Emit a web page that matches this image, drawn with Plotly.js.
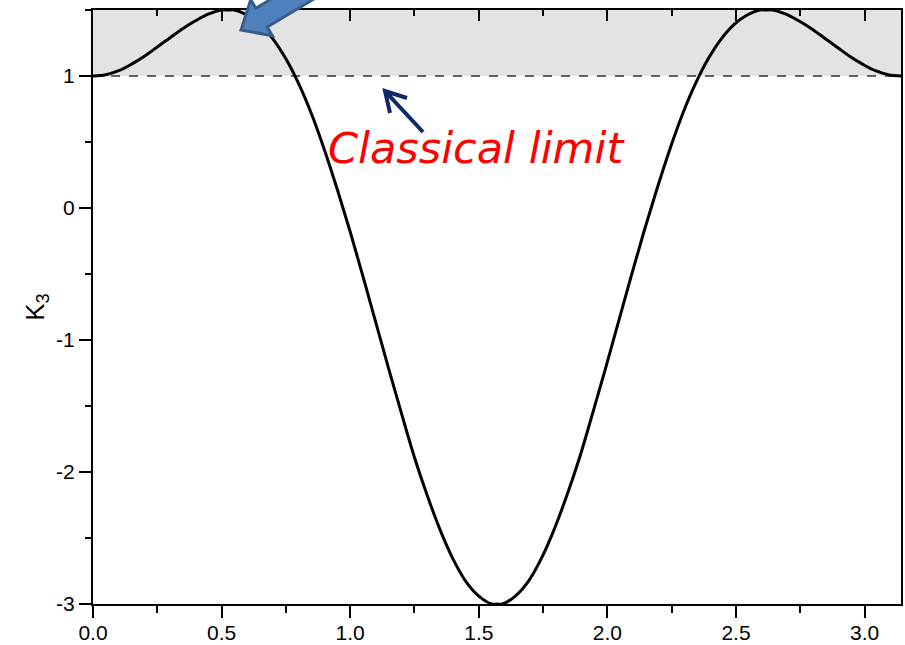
<!DOCTYPE html>
<html>
<head>
<meta charset="utf-8">
<script src="https://cdn.plot.ly/plotly-3.0.1.min.js"></script>
<style>
  html, body { margin: 0; padding: 0; background: #fff; }
  #graph { width: 905px; height: 645px; }
</style>
</head>
<body>
<div id="graph"></div>
<script>
// Data
const theta = [0.0, 0.05, 0.1, 0.15, 0.2, 0.25, 0.3, 0.35, 0.4, 0.45, 0.5, 0.524, 0.55, 0.6, 0.65, 0.7, 0.75,
               0.8, 0.85, 0.9, 0.95, 1.0, 1.05, 1.1, 1.15, 1.2, 1.25, 1.3, 1.35, 1.4, 1.45, 1.5, 1.55, 1.571,
               1.592, 1.642, 1.692, 1.742, 1.792, 1.842, 1.892, 1.942, 1.992, 2.042, 2.092, 2.142, 2.192, 2.242,
               2.292, 2.342, 2.392, 2.442, 2.492, 2.542, 2.592, 2.618, 2.642, 2.692, 2.742, 2.792, 2.842, 2.892,
               2.942, 2.992, 3.042, 3.092, 3.1416];
const k3 = [1.00, 1.01, 1.04, 1.09, 1.15, 1.22, 1.29, 1.36, 1.42, 1.47, 1.50, 1.50, 1.50, 1.46, 1.39, 1.28, 1.13,
            0.94, 0.71, 0.44, 0.14, -0.18, -0.52, -0.87, -1.22, -1.56, -1.89, -2.18, -2.44, -2.66, -2.83, -2.94, -3.00, -3.00,
            -3.00, -2.94, -2.83, -2.66, -2.44, -2.18, -1.89, -1.56, -1.22, -0.87, -0.52, -0.18, 0.14, 0.44,
            0.71, 0.94, 1.13, 1.28, 1.39, 1.46, 1.50, 1.50, 1.50, 1.47, 1.42, 1.36, 1.29, 1.22,
            1.15, 1.09, 1.04, 1.01, 1.00];
const classicalLimit = 1;
const yMax = 1.5;
const xTickVals = [0, 0.5, 1.0, 1.5, 2.0, 2.5, 3.0];
const xTickText = ['0.0', '0.5', '1.0', '1.5', '2.0', '2.5', '3.0'];
const yTickVals = [-3, -2, -1, 0, 1];
const yTickText = ['-3', '-2', '-1', '0', '1'];

// plot area in page pixels, used to place the drawn arrows
const L = 93, T = 10, W = 808, H = 594;
function paper(px, py) {
    return [(px - L) / W, (T + H - py) / H];
}
function pathFrom(points, close) {
    let d = points.map((p, i) => {
        const q = paper(p[0], p[1]);
        return (i === 0 ? 'M ' : 'L ') + q[0].toFixed(4) + ',' + q[1].toFixed(4);
    }).join(' ');
    return close ? d + ' Z' : d;
}

// big blue block arrow coming from above
function blockArrow(tip, angleDeg, headLen, headHalf, shaftHalf, shaftLen) {
    const a = angleDeg * Math.PI / 180;
    const u = [Math.cos(a), -Math.sin(a)];
    const n = [Math.sin(a), Math.cos(a)];
    const at = (c, s, t) => [c[0] + s * u[0] + t * n[0], c[1] + s * u[1] + t * n[1]];
    return pathFrom([
        tip,
        at(tip, headLen, headHalf),
        at(tip, headLen, shaftHalf),
        at(tip, shaftLen, shaftHalf),
        at(tip, shaftLen, -shaftHalf),
        at(tip, headLen, -shaftHalf),
        at(tip, headLen, -headHalf)
    ], true);
}

const curve = {
    x: theta,
    y: k3,
    mode: 'lines',
    type: 'scatter',
    line: { color: '#000', width: 3, shape: 'spline', smoothing: 1 },
    hoverinfo: 'skip',
    showlegend: false
};
const topAxisTrace = {
    x: theta,
    y: k3,
    xaxis: 'x2',
    mode: 'lines',
    type: 'scatter',
    line: { color: 'rgba(0,0,0,0)', width: 0 },
    hoverinfo: 'skip',
    showlegend: false
};

const axisFont = { family: 'Liberation Sans, Arial, sans-serif', size: 21, color: '#000' };

const layout = {
    width: 905,
    height: 645,
    margin: { l: L, r: 905 - L - W, t: T, b: 645 - T - H },
    paper_bgcolor: '#fff',
    plot_bgcolor: 'rgba(0,0,0,0)',
    showlegend: false,
    xaxis: {
        range: [0, Math.PI],
        tickvals: xTickVals,
        ticktext: xTickText,
        ticks: 'outside',
        ticklen: 12,
        tickwidth: 2,
        tickcolor: '#000',
        ticklabelstandoff: -3,
        minor: { dtick: 0.25, ticklen: 7, tickwidth: 2, tickcolor: '#000', ticks: 'outside' },
        showline: true,
        linecolor: '#000',
        linewidth: 2,
        showgrid: false,
        zeroline: false,
        tickfont: axisFont,
        fixedrange: true
    },
    xaxis2: {
        overlaying: 'x',
        matches: 'x',
        side: 'top',
        anchor: 'y',
        range: [0, Math.PI],
        tickvals: xTickVals,
        ticks: 'inside',
        ticklen: 11,
        tickwidth: 2,
        tickcolor: '#000',
        minor: { dtick: 0.25, ticklen: 6, tickwidth: 2, tickcolor: '#000', ticks: 'inside' },
        showticklabels: false,
        showline: true,
        linecolor: '#000',
        linewidth: 2,
        showgrid: false,
        zeroline: false
    },
    yaxis: {
        range: [-3, yMax],
        tickvals: yTickVals,
        ticktext: yTickText,
        ticks: 'outside',
        ticklen: 12,
        tickwidth: 2,
        tickcolor: '#000',
        minor: { dtick: 0.5, ticklen: 6, tickwidth: 2, tickcolor: '#000', ticks: 'outside' },
        showline: true,
        mirror: true,
        linecolor: '#000',
        linewidth: 2,
        showgrid: false,
        zeroline: false,
        tickfont: axisFont,
        title: { text: 'K<sub>3</sub>', font: { family: 'Liberation Sans, Arial, sans-serif', size: 26, color: '#000' }, standoff: 4 },
        fixedrange: true
    },
    shapes: [
        // region above the classical limit
        { type: 'rect', xref: 'x', yref: 'y', x0: 0, x1: Math.PI, y0: classicalLimit, y1: yMax,
          fillcolor: '#e3e3e3', line: { width: 0 }, layer: 'below' },
        { type: 'line', xref: 'x', yref: 'y', x0: 0, x1: Math.PI, y0: classicalLimit, y1: classicalLimit,
          line: { color: '#333', width: 1.5, dash: 'dash' }, layer: 'below' },
        // big blue arrow
        { type: 'path', xref: 'paper', yref: 'paper', layer: 'above',
          path: blockArrow([241, 30], 31, 24, 21, 11, 170),
          fillcolor: '#4f81bd', line: { color: '#385d8a', width: 3 } },
        // small navy arrow pointing at the limit
        { type: 'path', xref: 'paper', yref: 'paper', layer: 'above',
          path: pathFrom([[423, 132], [385, 91]]) + ' ' + pathFrom([[407, 98], [385, 91], [390, 113]]),
          line: { color: '#0d2a66', width: 4 } }
    ],
    annotations: [
        { text: 'Classical limit', xref: 'paper', yref: 'paper',
          x: paper(476, 0)[0], y: paper(0, 148)[1], xanchor: 'center', yanchor: 'middle',
          showarrow: false,
          font: { family: 'DejaVu Sans, Verdana, sans-serif', size: 43, color: '#ff0000', style: 'italic' } }
    ]
};

Plotly.newPlot('graph', [curve, topAxisTrace], layout, { staticPlot: true });
</script>
</body>
</html>
